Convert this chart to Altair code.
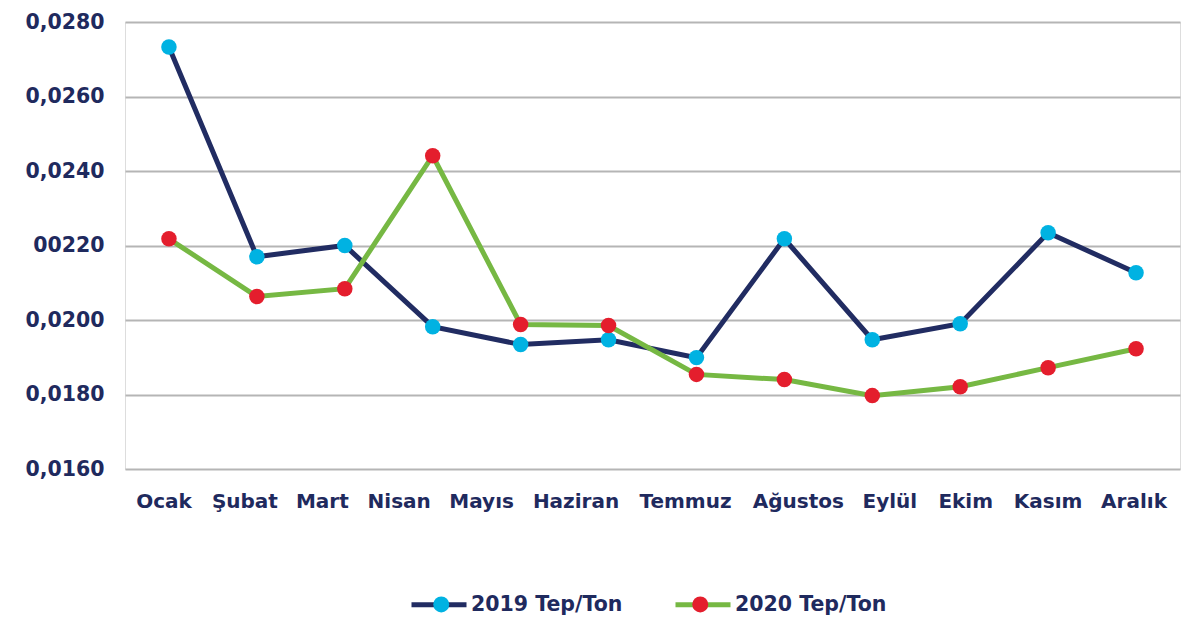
import altair as alt
import pandas as pd

months = ["Ocak", "Şubat", "Mart", "Nisan", "Mayıs", "Haziran", "Temmuz",
          "Ağustos", "Eylül", "Ekim", "Kasım", "Aralık"]
series_2019_name = "2019 Tep/Ton"
series_2020_name = "2020 Tep/Ton"
values_2019 = [0.02733, 0.02170, 0.02200, 0.01982, 0.01934, 0.01947,
               0.01899, 0.02218, 0.01947, 0.01990, 0.02234, 0.02127]
values_2020 = [0.02218, 0.02063, 0.02084, 0.02441, 0.01988, 0.01985,
               0.01854, 0.01840, 0.01797, 0.01821, 0.01872, 0.01923]
y_ticks = [0.016, 0.018, 0.020, 0.022, 0.024, 0.026, 0.028]

series_names = [series_2019_name, series_2020_name]
point_keys = ["p2019", "p2020"]
line_colors = ["#212c62", "#76b843"]
point_colors = ["#00b2e2", "#e41e2d"]
navy_text = "#1f2a5e"
FONT = "DejaVu Sans"

# horizontal nudges of month labels (the reference spaces them unevenly)
label_shift = [-5.5, -12.5, -23, -34, -39.5, -33, -11.5, 13.5, 17, 5, -0.5, -2.5]
shift_expr = "{" + ",".join(f"'{m}':{s}" for m, s in zip(months, label_shift)) + "}[datum.value]"

rows = []
for i, m in enumerate(months):
    rows.append({"month": m, "order": i, "series": series_2019_name, "key": point_keys[0], "value": values_2019[i]})
for i, m in enumerate(months):
    rows.append({"month": m, "order": i, "series": series_2020_name, "key": point_keys[1], "value": values_2020[i]})
df = pd.DataFrame(rows)

x_enc = alt.X("month:N", sort=months, scale=alt.Scale(domain=months, paddingInner=0, paddingOuter=0),
              axis=alt.Axis(title=None, labelAngle=0, labelFont=FONT, labelFontSize=20,
                            labelFontWeight="bold", labelColor=navy_text, labelPadding=22,
                            labelOffset={"expr": shift_expr},
                            domain=False, ticks=False, grid=False))
y_enc = alt.Y("value:Q", scale=alt.Scale(domain=[0.016, 0.028], nice=False, zero=False),
              axis=alt.Axis(title=None, values=y_ticks, labelFont=FONT, labelFontSize=20.5,
                            labelFontWeight="bold", labelColor=navy_text, labelPadding=21,
                            labelExpr="abs(datum.value-0.022)<1e-9 ? '00220' : replace(format(datum.value, '.4f'), '.', ',')",
                            domain=False, ticks=False, grid=True, gridColor="#b5b5b5",
                            gridWidth=2))

lines = alt.Chart(df).mark_line(strokeWidth=5).encode(
    x=x_enc, y=y_enc,
    stroke=alt.Stroke("series:N", scale=alt.Scale(domain=series_names, range=line_colors),
                      legend=alt.Legend(orient="none", legendX=284, legendY=552.5,
                                        direction="horizontal", title=None,
                                        symbolType="stroke", symbolSize=3025,
                                        symbolStrokeWidth=5, labelFont=FONT,
                                        labelFontSize=20.5, labelFontWeight="bold",
                                        labelColor=navy_text, labelOffset=2,
                                        columnPadding=42)),
    detail="series:N",
    order="order:Q",
)

points = alt.Chart(df).mark_point(filled=True, size=240, opacity=1, shape="circle").encode(
    x=x_enc, y=y_enc,
    fill=alt.Fill("key:N", scale=alt.Scale(domain=point_keys, range=point_colors),
                  legend=alt.Legend(orient="none", legendX=306, legendY=572,
                                    direction="horizontal", title=None,
                                    symbolType="circle", symbolSize=256,
                                    symbolStrokeWidth=0, labelFont=FONT,
                                    labelFontSize=20.5, labelFontWeight="bold",
                                    labelExpr="''", labelOffset=46,
                                    columnPadding=192)),
)

chart = alt.layer(lines, points).properties(
    width=1055, height=447,
    padding={"left": 117, "top": 14, "right": 10, "bottom": 150},
    autosize=alt.AutoSizeParams(type="none"),
).configure_view(strokeWidth=0).configure(background="white")

chart.save("out.html", embed_options={"renderer": "svg", "actions": False})
